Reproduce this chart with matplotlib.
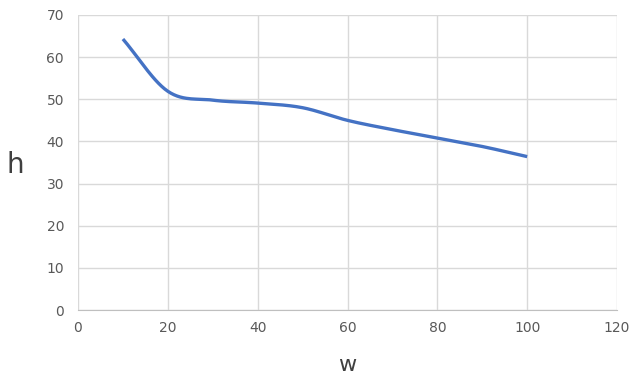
import numpy as np
import matplotlib
matplotlib.use("Agg")
import matplotlib.pyplot as plt

w = [10, 20, 30, 40, 50, 60, 70, 80, 90, 100]
h = [64.3, 51.9, 49.8, 49.1, 48.0, 45.0, 42.8, 40.8, 38.8, 36.4]
xticks = [0, 20, 40, 60, 80, 100, 120]
yticks = [0, 10, 20, 30, 40, 50, 60, 70]


def smooth(xs, ys, n=30):
    xs = np.asarray(xs, float)
    ys = np.asarray(ys, float)
    px = np.concatenate([[2 * xs[0] - xs[1]], xs, [2 * xs[-1] - xs[-2]]])
    py = np.concatenate([[2 * ys[0] - ys[1]], ys, [2 * ys[-1] - ys[-2]]])
    ox, oy = [], []
    for i in range(1, len(px) - 2):
        t = np.linspace(0, 1, n)
        p0x, p1x, p2x, p3x = px[i - 1:i + 3]
        p0y, p1y, p2y, p3y = py[i - 1:i + 3]
        b1x = p1x + (p2x - p0x) / 6
        b1y = p1y + (p2y - p0y) / 6
        b2x = p2x - (p3x - p1x) / 6
        b2y = p2y - (p3y - p1y) / 6
        bx = (1 - t) ** 3 * p1x + 3 * (1 - t) ** 2 * t * b1x + 3 * (1 - t) * t ** 2 * b2x + t ** 3 * p2x
        by = (1 - t) ** 3 * p1y + 3 * (1 - t) ** 2 * t * b1y + 3 * (1 - t) * t ** 2 * b2y + t ** 3 * p2y
        ox.extend(bx)
        oy.extend(by)
    return ox, oy


fig = plt.figure(figsize=(6.32, 3.79), dpi=100)
ax = fig.add_axes([78 / 632, 69 / 379, 539 / 632, 295 / 379])
sx, sy = smooth(w, h)
ax.plot(sx, sy, color="#4472C4", lw=2.4, solid_capstyle="butt")
ax.set_xlim(0, 120)
ax.set_ylim(0, 70)
ax.set_xticks(xticks)
ax.set_yticks(yticks)
ax.grid(True, color="#d9d9d9", lw=1)
ax.set_axisbelow(True)
for s in ["top", "right", "left"]:
    ax.spines[s].set_visible(False)
ax.spines["bottom"].set_color("#bfbfbf")
ax.tick_params(length=0, labelsize=10, labelcolor="#595959", pad=8)
ax.tick_params(axis="y", pad=10)
fig.text(15 / 632, 1 - 165 / 379, "h", fontsize=20, color="#404040", ha="center", va="center")
fig.text(347 / 632, 1 - 365 / 379, "w", fontsize=16, color="#404040", ha="center", va="center")
fig.savefig("out.png", dpi=100)
